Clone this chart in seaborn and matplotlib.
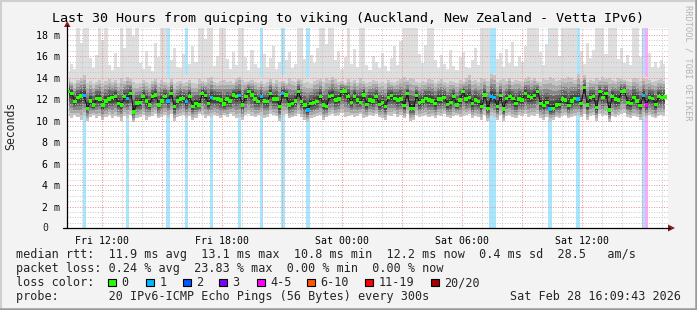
import numpy as np
import pandas as pd
import matplotlib
matplotlib.use("Agg")
import matplotlib.pyplot as plt
from matplotlib.patches import Rectangle, Polygon
from matplotlib.lines import Line2D
import seaborn as sns

# ---------------- data ----------------
median_ms = [
    12.69, 12.54, 11.76, 12.13, 12.29, 12.32, 11.14, 11.82, 11.45, 12.07,
    12.01, 11.45, 11.82, 12.01, 12.13, 12.23, 11.61, 11.45, 12.23, 12.07,
    12.54, 10.80, 11.66, 11.70, 12.23, 11.82, 11.45, 12.23, 12.38, 11.45,
    11.82, 12.23, 11.82, 12.54, 11.30, 11.82, 12.01, 12.07, 11.76, 12.23,
    11.30, 11.61, 11.45, 12.54, 12.32, 11.61, 12.13, 12.07, 12.01, 11.92,
    11.55, 12.01, 11.82, 12.38, 12.23, 12.32, 11.45, 12.23, 12.69, 12.38,
    12.01, 11.76, 12.23, 11.82, 11.76, 12.54, 12.01, 12.01, 11.30, 12.54,
    12.38, 11.45, 11.61, 11.82, 12.69, 11.76, 11.45, 10.99, 11.61, 11.70,
    11.76, 12.23, 11.45, 11.30, 12.23, 12.32, 11.92, 12.01, 12.69, 12.76,
    12.23, 11.70, 12.23, 11.92, 11.70, 12.38, 11.51, 11.92, 11.82, 12.23,
    11.51, 11.70, 11.30, 12.13, 12.32, 12.07, 11.92, 12.01, 11.39, 12.54,
    11.14, 11.14, 12.32, 11.70, 11.82, 12.07, 11.92, 11.82, 11.61, 12.01,
    12.01, 12.13, 11.51, 11.70, 12.23, 11.45, 11.92, 12.69, 12.01, 12.13,
    11.61, 11.92, 11.76, 11.30, 12.38, 11.14, 12.23, 12.13, 11.30, 12.32,
    11.08, 12.07, 12.23, 12.07, 11.61, 12.01, 11.92, 12.54, 12.23, 12.13,
    12.32, 12.69, 11.61, 11.39, 11.70, 11.08, 11.14, 11.45, 11.51, 12.01,
    11.92, 11.39, 11.82, 12.07, 12.01, 11.61, 13.07, 11.45, 12.13, 12.23,
    11.20, 12.69, 12.13, 12.54, 10.99, 12.23, 12.01, 11.92, 12.69, 12.76,
    11.70, 11.61, 12.13, 11.82, 11.39, 12.32, 11.45, 12.13, 12.07, 11.51,
    12.23, 12.13, 12.20,
]

ping_low = [
    10.4, 10.2, 10.5, 10.3, 10.1, 10.4, 10.0, 10.3, 10.5, 10.2,
    10.4, 10.1, 10.3, 10.5, 10.2, 10.4, 10.3, 10.0, 10.4, 10.2,
    10.5, 9.9, 10.2, 10.3, 10.5, 10.1, 10.3, 10.4, 10.6, 10.2,
    10.3, 10.5, 10.2, 10.6, 10.0, 10.3, 10.4, 10.5, 10.2, 10.4,
    10.1, 10.2, 10.6, 10.5, 10.2, 10.4, 10.3, 10.5, 10.4, 10.2,
    10.5, 10.3, 10.6, 10.4, 10.2, 10.3, 10.1, 10.5, 10.6, 10.4,
    10.3, 10.5, 10.4, 10.2, 10.3, 10.6, 10.5, 10.4, 10.0, 10.5,
    10.6, 10.2, 10.3, 10.4, 10.6, 10.3, 10.1, 9.9, 10.2, 10.3,
    10.4, 10.5, 10.1, 10.3, 10.5, 10.6, 10.4, 10.5, 10.7, 10.3,
    10.4, 10.5, 10.3, 10.4, 10.6, 10.2, 10.3, 10.5, 10.4, 10.6,
    10.3, 10.2, 10.1, 10.5, 10.4, 10.6, 10.3, 10.5, 10.2, 10.6,
    10.0, 10.1, 10.5, 10.3, 10.4, 10.5, 10.3, 10.4, 10.2, 10.5,
    10.4, 10.6, 10.3, 10.2, 10.4, 10.5, 10.3, 10.4, 10.5, 10.6,
    10.2, 10.4, 10.3, 10.1, 10.5, 10.0, 10.4, 10.3, 10.1, 10.5,
    10.0, 10.4, 10.5, 10.3, 10.2, 10.5, 10.4, 10.6, 10.3, 10.5,
    10.4, 10.6, 10.2, 10.1, 10.3, 10.0, 10.1, 10.3, 10.2, 10.4,
    10.5, 10.2, 10.3, 10.4, 10.5, 10.3, 10.6, 10.1, 10.4, 10.5,
    10.0, 10.6, 10.4, 10.5, 9.9, 10.4, 10.3, 10.5, 10.6, 10.7,
    10.3, 10.2, 10.4, 10.3, 10.1, 10.4, 10.2, 10.5, 10.3, 10.2,
    10.4, 10.5, 10.4,
]

ping_high = [
    13.9, 13.6, 13.4, 13.8, 14.0, 14.2, 13.5, 13.7, 13.4, 13.6,
    13.8, 13.5, 13.7, 13.9, 13.6, 13.8, 13.5, 14.0, 13.7, 14.1,
    13.9, 13.6, 13.4, 13.5, 13.8, 13.6, 13.4, 13.7, 13.9, 13.5,
    13.8, 13.6, 13.5, 13.9, 13.4, 13.6, 13.7, 13.5, 13.6, 13.8,
    13.5, 13.4, 13.9, 13.7, 13.6, 14.0, 14.1, 13.6, 13.5, 13.7,
    13.8, 13.6, 13.7, 13.5, 13.9, 14.1, 13.8, 13.6, 13.7, 13.8,
    13.6, 13.5, 13.7, 13.4, 13.6, 13.9, 13.5, 13.8, 13.6, 13.7,
    13.5, 14.0, 13.7, 13.6, 13.9, 13.8, 13.5, 13.6, 13.4, 13.7,
    13.8, 13.9, 13.6, 14.0, 13.8, 14.1, 13.9, 13.6, 13.7, 13.5,
    13.9, 13.6, 13.8, 13.5, 14.0, 13.7, 13.5, 13.6, 13.8, 13.7,
    13.5, 13.6, 13.4, 13.8, 13.6, 13.5, 13.7, 13.9, 14.1, 13.8,
    14.0, 13.9, 13.6, 13.5, 13.7, 13.6, 13.9, 13.8, 13.5, 13.7,
    13.9, 13.6, 13.5, 13.7, 13.6, 13.5, 13.8, 13.6, 14.0, 14.2,
    13.7, 13.8, 13.6, 14.0, 13.9, 13.7, 14.3, 14.2, 13.6, 13.8,
    13.9, 13.7, 14.0, 13.6, 13.8, 13.7, 13.6, 13.9, 14.1, 13.8,
    14.0, 13.7, 13.6, 13.9, 13.8, 14.1, 13.9, 13.7, 13.8, 14.0,
    13.9, 14.1, 14.0, 13.8, 14.3, 13.7, 14.2, 13.6, 13.8, 13.7,
    14.0, 13.8, 14.1, 13.9, 14.0, 13.8, 13.7, 14.0, 13.9, 13.8,
    13.7, 13.6, 14.0, 13.9, 13.7, 14.0, 13.9, 13.8, 13.6, 13.7,
    13.8, 13.9, 13.7,
]

ping_max = [
    14.6, 15.3, 14.8, 18.9, 17.2, 18.9, 18.9, 15.8, 14.9, 16.1,
    18.9, 17.5, 18.9, 15.2, 14.7, 16.3, 15.0, 18.9, 16.8, 18.9,
    18.9, 17.9, 18.9, 15.4, 14.8, 16.5, 15.1, 14.6, 17.2, 15.9,
    18.9, 18.9, 14.0, 15.6, 16.8, 15.0, 14.9, 16.2, 14.2, 15.3,
    16.9, 15.5, 18.9, 18.9, 17.6, 18.9, 18.9, 15.1, 16.0, 18.9,
    18.9, 15.7, 14.8, 16.4, 15.2, 18.9, 18.9, 15.9, 14.7, 16.6,
    15.3, 14.9, 14.1, 16.2, 15.0, 15.8, 16.9, 14.8, 15.5, 14.2,
    15.6, 16.4, 14.9, 15.3, 18.9, 18.9, 15.7, 14.1, 16.1, 15.4,
    16.8, 18.9, 18.9, 17.1, 18.9, 18.9, 15.6, 16.5, 14.8, 15.9,
    18.9, 15.3, 16.7, 15.0, 18.9, 18.9, 15.2, 14.7, 16.0, 15.5,
    14.9, 16.3, 15.1, 14.6, 15.8, 16.9, 15.2, 17.4, 18.9, 18.9,
    18.9, 18.9, 18.9, 16.2, 15.4, 17.0, 18.9, 18.9, 15.6, 14.9,
    16.1, 15.3, 14.8, 16.6, 15.1, 14.7, 15.9, 16.4, 15.0, 14.9,
    15.6, 16.8, 15.2, 18.9, 18.9, 18.9, 14.3, 14.4, 15.7, 16.3,
    15.0, 16.7, 15.4, 17.3, 15.1, 16.0, 15.5, 16.9, 18.9, 18.9,
    18.9, 18.9, 16.4, 15.2, 17.1, 18.9, 18.9, 18.9, 16.0, 18.9,
    18.9, 18.9, 18.9, 18.9, 14.3, 16.5, 15.3, 17.2, 15.8, 16.6,
    18.9, 18.9, 18.9, 16.2, 18.9, 18.9, 18.9, 15.7, 16.8, 15.4,
    16.1, 15.2, 18.9, 18.9, 15.9, 14.2, 14.1, 16.3, 15.0, 15.5,
    14.9, 15.6, 15.3,
]

loss_index = [5, 19, 32, 38, 46, 55, 62, 69, 77, 136, 137, 155, 164, 185, 186]
loss_level = ['1'] * 14 + ['4-5']

first_sample_h = 0.085   # hours after the left edge of the graph
sample_step_h = 0.1553   # hours between samples

loss_names = ['0', '1', '2', '3', '4-5', '6-10', '11-19', '20/20']
loss_colors = ['#26ff00', '#00b8ff', '#0059ff', '#7e00ff',
               '#ff00ff', '#ff5500', '#ff0000', '#a10000']
loss_bg = {'1': '#a6e6ff', '4-5': '#ffa6ff'}

tick_hours = [1.75, 7.75, 13.75, 19.75, 25.75]
tick_labels = ['Fri 12:00', 'Fri 18:00', 'Sat 00:00', 'Sat 06:00', 'Sat 12:00']
ytick_vals = [0, 2, 4, 6, 8, 10, 12, 14, 16, 18]
ytick_labels = ['0', '2 m', '4 m', '6 m', '8 m', '10 m', '12 m', '14 m', '16 m', '18 m']

title = "Last 30 Hours from quicping to viking (Auckland, New Zealand - Vetta IPv6)"
legend_rows = [
    "median rtt:  11.9 ms avg  13.1 ms max  10.8 ms min  12.2 ms now  0.4 ms sd  28.5   am/s",
    "packet loss: 0.24 % avg  23.83 % max  0.00 % min  0.00 % now",
]
probe_text = "probe:       20 IPv6-ICMP Echo Pings (56 Bytes) every 300s"
stamp_text = "Sat Feb 28 16:09:43 2026"

# ---------------- figure ----------------
sns.set_style("white")
plt.rcParams['font.family'] = ['DejaVu Sans Mono']

W, H = 697, 310
fig = plt.figure(figsize=(W / 100, H / 100), dpi=100)
fig.patch.set_facecolor('#f3f3f3')

def fx(px):
    return px / W

def fy(py):
    return 1 - py / H

YTOP = 200 / 10.74
XMAX = 601 / 20.0
ax = fig.add_axes([fx(67), fy(228), 601 / W, 200 / H])
ax.set_facecolor('white')
ax.set_xlim(0, XMAX)
ax.set_ylim(0, YTOP)

n = len(median_ms)
hours = first_sample_h + sample_step_h * np.arange(n)
med = np.array(median_ms)
lo = np.array(ping_low)
hi = np.array(ping_high)
mx = np.array(ping_max)

cat = ['0'] * n
for i, lv in zip(loss_index, loss_level):
    cat[i] = lv
df = pd.DataFrame({'hour': hours, 'median': med, 'loss': cat})

# loss background bars
for i, lv in zip(loss_index, loss_level):
    ax.bar(hours[i], YTOP, width=sample_step_h * 1.1, bottom=0,
           color=loss_bg[lv], linewidth=0, zorder=1)

# smoke
ax.fill_between(hours, lo, mx, step='mid', color='#dedede', lw=0, zorder=2)
ax.fill_between(hours, lo, hi, step='mid', color='#c4c4c4', lw=0, zorder=2)
for f, c in [(0.8, '#a8a8a8'), (0.6, '#888888'), (0.42, '#666666'), (0.25, '#444444'), (0.1, '#262626')]:
    ax.fill_between(hours, med - f * (med - lo), med + f * (hi - med),
                    step='mid', color=c, lw=0, zorder=2)

# grid
major_x = [1.75 + 3 * k for k in range(10)]
ax.set_xticks(major_x)
ax.set_xticklabels([tick_labels[tick_hours.index(v)] if v in tick_hours else '' for v in major_x])
ax.set_xticks([0.75 + k for k in range(30)], minor=True)
ax.set_yticks(ytick_vals)
ax.set_yticklabels([''] + ytick_labels[1:])
ax.set_yticks([0.5 * k for k in range(38)], minor=True)
ax.grid(which='minor', color='#c6c6c6', lw=0.7, ls=(0, (1, 1.6)), zorder=3)
ax.grid(which='major', color='#f08a8a', lw=0.7, ls=(0, (1, 1.6)), zorder=3)
ax.set_axisbelow(False)
for gl in ax.get_xgridlines() + ax.get_ygridlines():
    gl.set_zorder(3)

# median
sns.lineplot(data=df, x='hour', y='median', color='#111111', lw=0.7,
             estimator=None, sort=False, ax=ax, zorder=4)
sns.scatterplot(data=df, x='hour', y='median', hue='loss',
                palette=dict(zip(loss_names, loss_colors)), marker='s', s=6.5,
                linewidth=0, legend=False, ax=ax, zorder=5)
ax.set_xlabel('')
ax.set_ylabel('')
ax.set_xlim(0, XMAX)
ax.set_ylim(0, YTOP)

for s in ax.spines.values():
    s.set_visible(False)
ax.tick_params(axis='both', which='major', direction='out', length=3, width=0.7,
               colors='black', labelsize=7.1, pad=2)
ax.tick_params(axis='both', which='minor', direction='out', length=1.5, width=0.6,
               colors='black')
ax.tick_params(axis='x', which='major', pad=3)
# the "0" label sits in the digit column of the other labels
fig.text(fx(48), fy(228), ytick_labels[0], ha='right', va='center', fontsize=7.1)

# axes lines and arrows
fig.add_artist(Line2D([fx(67), fx(67)], [fy(228), fy(25)], color='black', lw=0.9))
fig.add_artist(Line2D([fx(63), fx(670)], [fy(228), fy(228)], color='black', lw=0.9))
fig.add_artist(Polygon([[fx(64), fy(27)], [fx(70.5), fy(27)], [fx(67.2), fy(21)]],
                       closed=True, color='#8b1c1c', lw=0))
fig.add_artist(Polygon([[fx(668), fy(224.5)], [fx(668), fy(231.5)], [fx(675), fy(228)]],
                       closed=True, color='#8b1c1c', lw=0))

# texts
fig.text(fx(347.5), fy(18.5), title, ha='center', va='center', fontsize=9.6, color='black')
fig.text(fx(11), fy(126), 'Seconds', rotation=90, ha='center', va='center', fontsize=8.3)
fig.text(fx(688), fy(5), 'RRDTOOL / TOBI OETIKER', rotation=-90, ha='center', va='top',
         fontsize=6.2, color='#b4b4b4')

fig.text(fx(16), fy(254.5), legend_rows[0], ha='left', va='center', fontsize=8.5)
fig.text(fx(16), fy(268.5), legend_rows[1], ha='left', va='center', fontsize=8.5)
fig.text(fx(16), fy(282.5), 'loss color:', ha='left', va='center', fontsize=8.5)
sq_x = [108, 146, 183, 219, 257, 307, 365, 431]
for xpx, nm, col in zip(sq_x, loss_names, loss_colors):
    fig.add_artist(Rectangle((fx(xpx), fy(286)), 7.5 / W, 7.5 / H, facecolor=col,
                             edgecolor='black', lw=0.8))
    fig.text(fx(xpx + 13.5), fy(282.5), nm, ha='left', va='center', fontsize=8.5)
fig.text(fx(16), fy(296.5), probe_text, ha='left', va='center', fontsize=8.5)
fig.text(fx(681), fy(296.5), stamp_text, ha='right', va='center', fontsize=8.5)

# 3D-style frame
fig.add_artist(Line2D([0, 1], [fy(0.8), fy(0.8)], color='#cfcfcf', lw=1.5))
fig.add_artist(Line2D([fx(0.8), fx(0.8)], [0, 1], color='#cfcfcf', lw=1.5))
fig.add_artist(Line2D([0, 1], [fy(308.8), fy(308.8)], color='#9a9a9a', lw=1.8))
fig.add_artist(Line2D([fx(695.8), fx(695.8)], [0, 1], color='#9a9a9a', lw=1.8))

fig.savefig('out.png', dpi=100, facecolor=fig.get_facecolor())
